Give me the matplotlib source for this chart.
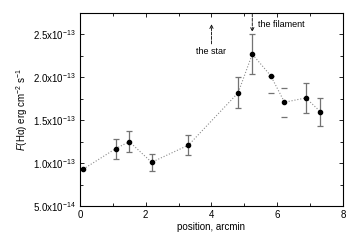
import matplotlib
matplotlib.use('Agg')
import matplotlib.pyplot as plt
from matplotlib.ticker import FixedLocator, FuncFormatter, NullFormatter

plt.rcParams['font.family'] = 'Liberation Sans'
plt.rcParams['mathtext.fontset'] = 'custom'
plt.rcParams['mathtext.rm'] = 'Liberation Sans'
plt.rcParams['mathtext.it'] = 'Liberation Sans:italic'

# positions (arcmin) and H-alpha flux (1e-13 erg cm^-2 s^-1)
pos = [0.1, 1.09, 1.50, 2.18, 3.30, 4.81, 5.24, 5.80, 6.22, 6.87, 7.31]
flux = [0.93, 1.17, 1.25, 1.01, 1.21, 1.82, 2.27, 2.02, 1.71, 1.76, 1.60]
err_lo = [0.0, 0.117, 0.12, 0.10, 0.12, 0.18, 0.23, 0.20, 0.17, 0.17, 0.165]
err_hi = [0.0, 0.117, 0.12, 0.10, 0.12, 0.18, 0.23, 0.0, 0.17, 0.17, 0.165]
full_bar = [False, True, True, True, True, True, True, False, False, True, True]

xticks = [0, 2, 4, 6, 8]
xminor = [1, 3, 5, 7]
yticks = [0.5, 1.0, 1.5, 2.0, 2.5]
yminor = [0.75, 1.25, 1.75, 2.25]

scale = 1e-13
y = [v * scale for v in flux]

fig = plt.figure(figsize=(3.53, 2.41), dpi=100)
ax = fig.add_axes([0.2266, 0.1452, 0.7451, 0.8008])

ax.plot(pos, y, linestyle=':', color='0.55', linewidth=0.8, zorder=1)

fx = [p for p, f in zip(pos, full_bar) if f]
fy = [v for v, f in zip(y, full_bar) if f]
fe = [[l * scale for l, f in zip(err_lo, full_bar) if f],
      [h * scale for h, f in zip(err_hi, full_bar) if f]]
ax.errorbar(fx, fy, yerr=fe, fmt='none', ecolor='0.45', elinewidth=0.9,
            capsize=2.5, capthick=0.9, zorder=2)

cx = [p for p, f in zip(pos[1:], full_bar[1:]) if not f]
cy = [v for v, f in zip(y[1:], full_bar[1:]) if not f]
ce = [[l * scale for l, f in zip(err_lo[1:], full_bar[1:]) if not f],
      [h * scale for h, f in zip(err_hi[1:], full_bar[1:]) if not f]]
ax.errorbar(cx, cy, yerr=ce, fmt='none', ecolor='0.45', elinewidth=0,
            capsize=2.5, capthick=0.9, zorder=2)

ax.plot(pos, y, 'o', color='black', markersize=3, zorder=3)

ax.set_xlim(0, 8)
ax.set_ylim(0.5e-13, 2.75e-13)
ax.xaxis.set_major_locator(FixedLocator(xticks))
ax.xaxis.set_minor_locator(FixedLocator(xminor))
ax.yaxis.set_major_locator(FixedLocator([v * scale for v in yticks]))
ax.yaxis.set_minor_locator(FixedLocator([v * scale for v in yminor]))
ax.yaxis.set_minor_formatter(NullFormatter())
ax.xaxis.set_minor_formatter(NullFormatter())


def yfmt(v, _):
    if abs(v - 0.5e-13) < 1e-16:
        return r'5.0x10$^{-14}$'
    return r'%.1fx10$^{-13}$' % (v / 1e-13)


ax.yaxis.set_major_formatter(FuncFormatter(yfmt))
ax.tick_params(which='both', direction='in', top=True, right=True,
               labelsize=7, length=3, width=0.6, pad=3)
ax.tick_params(which='minor', length=2)
for s in ax.spines.values():
    s.set_linewidth(0.8)

ax.set_xlabel('position, arcmin', fontsize=7, labelpad=1)
ax.set_ylabel('$F$(H\u03b1) erg cm$^{-2}$ s$^{-1}$', fontsize=7, labelpad=2)

arrow = dict(arrowstyle='->,head_length=0.25,head_width=0.12', linestyle='--',
             color='black', lw=0.6, shrinkA=0, shrinkB=0)
ax.annotate('', xy=(4.0, 2.62e-13), xytext=(4.0, 2.39e-13), arrowprops=arrow)
ax.text(4.0, 2.30e-13, 'the star', fontsize=6.5, ha='center', va='center')
ax.annotate('', xy=(5.24, 2.53e-13), xytext=(5.24, 2.74e-13), arrowprops=arrow)
ax.text(5.42, 2.62e-13, 'the filament', fontsize=6.5, ha='left', va='center')

fig.savefig('out.png', dpi=100)
